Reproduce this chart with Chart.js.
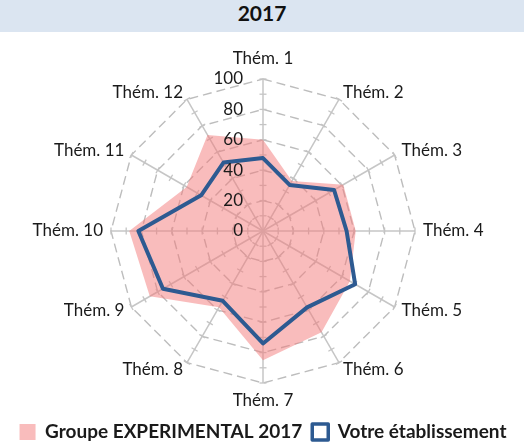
<!DOCTYPE html>
<html><head><meta charset="utf-8">
<script src="https://cdn.jsdelivr.net/npm/chart.js@4.4.0/dist/chart.umd.min.js"></script>
<style>
html,body{margin:0;padding:0;background:#fff;overflow:hidden;width:524px;height:443px;}
#hdr{height:32px;line-height:32px;background:#dbe5f1;text-align:center;font:bold 21px Lato, sans-serif;color:#111;}
#wrap{width:524px;height:424px;position:relative;}
</style></head><body>
<div id="hdr">2017</div>
<div id="wrap"><canvas id="c" width="524" height="424"></canvas></div>
<script>
const categories = ['Thém. 1','Thém. 2','Thém. 3','Thém. 4','Thém. 5','Thém. 6','Thém. 7','Thém. 8','Thém. 9','Thém. 10','Thém. 11','Thém. 12'];
const groupeExperimental = [60, 38, 61, 61, 66, 77, 85, 58, 86, 88, 58, 73];
const votreEtablissement = [48, 35, 54, 55, 70, 58, 74, 53, 76, 82, 47, 52];
const tickLabels = [0, 20, 40, 60, 80, 100];
const minorTicks = [10, 20, 30, 40, 50, 60, 70, 80, 90, 100];
const seriesNames = ['Groupe EXPERIMENTAL 2017', 'Votre établissement'];

const FONT = 'Lato, sans-serif';
const TEXT = '#1a1a1a';

const radarDecor = {
  id: 'radarDecor',
  beforeDatasetsDraw(chart) {
    const s = chart.scales.r, ctx = chart.ctx;
    ctx.save();
    ctx.strokeStyle = '#c4c4c4';
    ctx.lineWidth = 1.3;
    for (let i = 0; i < categories.length; i++) {
      const ang = s.getIndexAngle(i) - Math.PI / 2;
      const px = -Math.sin(ang), py = Math.cos(ang);
      for (const v of minorTicks) {
        const p = s.getPointPosition(i, s.getDistanceFromCenterForValue(v));
        ctx.beginPath();
        ctx.moveTo(p.x - px * 3.5, p.y - py * 3.5);
        ctx.lineTo(p.x + px * 3.5, p.y + py * 3.5);
        ctx.stroke();
      }
    }
    ctx.restore();
  },
  afterDatasetsDraw(chart) {
    const s = chart.scales.r, ctx = chart.ctx;
    const fs = 17;
    ctx.save();
    ctx.font = fs + 'px ' + FONT;
    ctx.fillStyle = TEXT;
    ctx.textBaseline = 'middle';
    for (let i = 0; i < categories.length; i++) {
      const deg = Math.round(s.getIndexAngle(i) * 180 / Math.PI) % 360;
      const p = s.getPointPosition(i, s.drawingArea + 8);
      let y = p.y;
      if (deg === 0) { ctx.textAlign = 'center'; y = p.y - fs * 0.75; }
      else if (deg === 180) { ctx.textAlign = 'center'; y = p.y + fs * 0.55; }
      else if (deg < 180) ctx.textAlign = 'left';
      else ctx.textAlign = 'right';
      ctx.fillText(categories[i], p.x, y);
    }
    ctx.textAlign = 'right';
    for (const v of tickLabels) {
      const d = s.getDistanceFromCenterForValue(v);
      ctx.fillText(String(v), s.xCenter - 20, s.yCenter - d);
    }
    ctx.restore();
  }
};

new Chart(document.getElementById('c'), {
  type: 'radar',
  data: {
    labels: categories,
    datasets: [
      {
        label: seriesNames[0],
        data: groupeExperimental,
        backgroundColor: 'rgba(244,122,122,0.5)',
        borderColor: 'rgba(244,122,122,0.5)',
        borderWidth: 0,
        fill: true,
        pointRadius: 0,
        order: 1
      },
      {
        label: seriesNames[1],
        data: votreEtablissement,
        backgroundColor: '#ffffff',
        borderColor: '#2d5a91',
        borderWidth: 4,
        borderJoinStyle: 'round',
        fill: false,
        pointRadius: 0,
        order: 0
      }
    ]
  },
  options: {
    responsive: false,
    animation: false,
    devicePixelRatio: 1,
    layout: { padding: { top: 47, bottom: 4.5, left: 2, right: 0 } },
    plugins: {
      tooltip: { enabled: false },
      legend: {
        position: 'bottom',
        title: { display: true, text: '', font: { size: 10 }, padding: { top: 17.5, bottom: 0 } },
        labels: {
          font: { family: FONT, size: 19, weight: 'bold' },
          color: TEXT,
          boxWidth: 16,
          boxHeight: 16,
          padding: 10,
          sort: (a, b) => a.datasetIndex - b.datasetIndex,
          generateLabels(chart) {
            const items = Chart.defaults.plugins.legend.labels.generateLabels(chart);
            items.forEach(it => { if (it.datasetIndex === 1) it.lineWidth = 3.5; });
            return items;
          }
        }
      }
    },
    scales: {
      r: {
        min: 0,
        max: 100,
        ticks: { display: false, stepSize: 20 },
        pointLabels: { display: false },
        grid: { color: '#bdbdbd', lineWidth: 1.4 },
        border: { dash: [9, 5] },
        angleLines: { color: '#c6c6c6', lineWidth: 1.5 }
      }
    }
  },
  plugins: [radarDecor]
});
</script>
</body></html>
